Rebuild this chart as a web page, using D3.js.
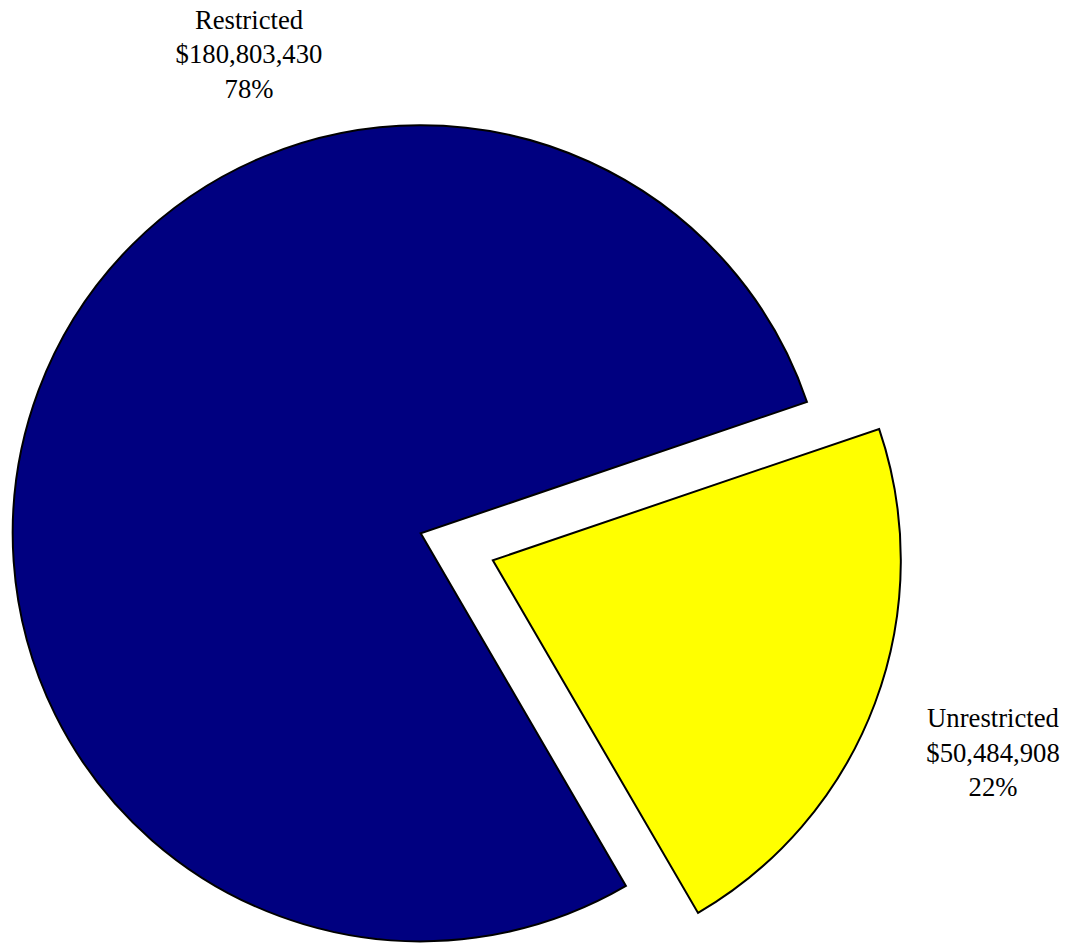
<!DOCTYPE html>
<html>
<head>
<meta charset="utf-8">
<script src="https://cdn.jsdelivr.net/npm/d3@7"></script>
<style>
  html, body { margin: 0; padding: 0; background: #fff; }
  svg { display: block; }
  text { font-family: "Liberation Serif", "Times New Roman", serif; }
</style>
</head>
<body>
<svg id="chart" width="1071" height="944"></svg>
<script>
// Fund balances by category
const categories = ["Restricted", "Unrestricted"];
const amounts = [180803430, 50484908];
const percentLabels = ["78%", "22%"];
const colors = ["#000080", "#FFFF00"];
const explodedSlice = [0, 1];

const width = 1071, height = 944;
const cx = 420.7, cy = 533.3, radius = 408;
const explodeDistance = 77;
const rotationDeg = 149.8;

// label anchors (centre x, first-line baseline)
const labelAnchors = [
  { x: 249, y: 28.5 },
  { x: 993, y: 727 }
];
const lineHeight = 34.5;
const fontSize = 26.7;

const svg = d3.select("#chart");
const g = svg.append("g").attr("transform", `translate(${cx},${cy})`);

const rot = rotationDeg * Math.PI / 180;
const pie = d3.pie().sort(null).value(d => d)
  .startAngle(rot).endAngle(rot + 2 * Math.PI);
const arc = d3.arc().innerRadius(0).outerRadius(radius);
const arcs = pie(amounts);

g.selectAll("path.slice")
  .data(arcs)
  .join("path")
  .attr("class", "slice")
  .attr("d", arc)
  .attr("fill", (d, i) => colors[i])
  .attr("stroke", "#000")
  .attr("stroke-width", 2)
  .attr("stroke-linejoin", "miter")
  .attr("transform", (d, i) => {
    if (!explodedSlice[i]) return null;
    const mid = (d.startAngle + d.endAngle) / 2;
    const dx = Math.sin(mid) * explodeDistance;
    const dy = -Math.cos(mid) * explodeDistance;
    return `translate(${dx},${dy})`;
  });

const fmt = d3.format("$,");
const labels = svg.selectAll("text.label")
  .data(categories)
  .join("text")
  .attr("class", "label")
  .attr("text-anchor", "middle")
  .attr("font-size", fontSize)
  .attr("fill", "#000");

labels.each(function(name, i) {
  const t = d3.select(this);
  const lines = [name, fmt(amounts[i]), percentLabels[i]];
  lines.forEach((line, k) => {
    t.append("tspan")
      .attr("x", labelAnchors[i].x)
      .attr("y", labelAnchors[i].y + k * lineHeight)
      .text(line);
  });
});
</script>
</body>
</html>
